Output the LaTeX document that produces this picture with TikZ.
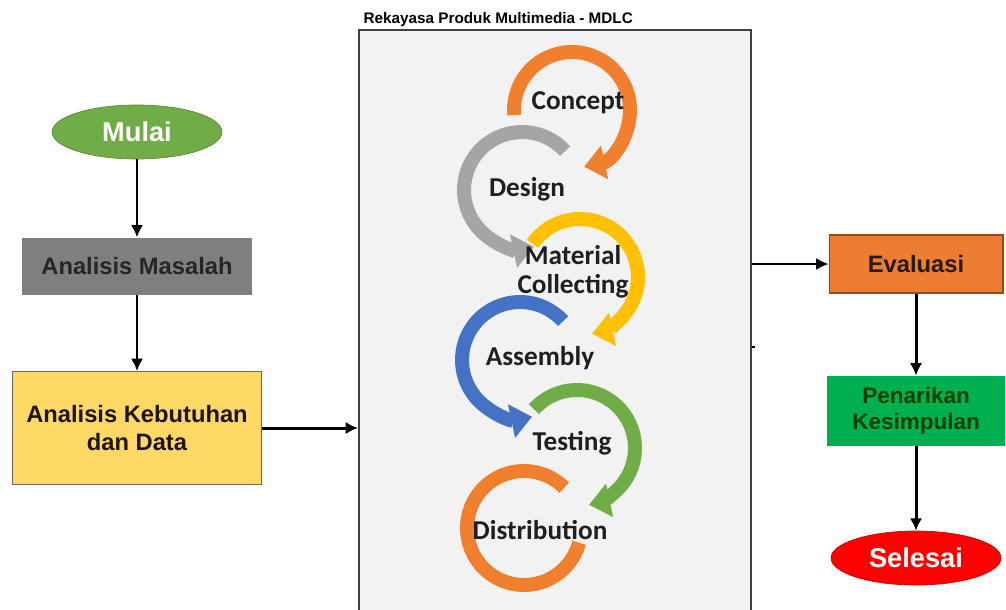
\documentclass[tikz,border=0pt]{standalone}
\usepackage{fontspec}
\setmainfont{Liberation Sans}
\newfontfamily\calibri{Carlito}
\usepackage{xcolor}
\usepackage{tikz}
\usetikzlibrary{positioning, arrows.meta, shapes.geometric}

\definecolor{mulaigreen}{HTML}{70AD47}
\definecolor{masalahgray}{HTML}{7F7F7F}
\definecolor{kebutuhanyellow}{HTML}{FFD966}
\definecolor{evaluasiorange}{HTML}{ED7D31}
\definecolor{penarikangreen}{HTML}{00B050}
\definecolor{selesaired}{HTML}{FF0000}
\definecolor{panelgray}{HTML}{F2F2F2}
\definecolor{ringorange}{HTML}{F07F2E}
\definecolor{ringgray}{HTML}{A5A5A5}
\definecolor{ringyellow}{HTML}{FFC000}
\definecolor{ringblue}{HTML}{4472C4}
\definecolor{ringgreen}{HTML}{70AD47}

\begin{document}
\begin{tikzpicture}[
    x=0.02cm, y=0.02cm,
    >={Latex[length=7pt,width=7pt]},
    terminal/.style={ellipse, draw=#1!80!black, fill=#1, minimum width=3.4cm, minimum height=1.08cm,
        inner sep=0pt, text=white, font=\bfseries\fontsize{15.5}{17}\selectfont},
    process/.style={rectangle, fill=#1, minimum width=4.62cm, minimum height=1.14cm, inner sep=2pt,
        align=center, font=\bfseries\fontsize{13.5}{16}\selectfont},
    arrow/.style={->, line width=1.7pt, black},
    ring/.style={line width=0.28cm, draw=#1},
    ringhead/.style={-{Triangle[length=0.42cm,width=0.66cm]}},
    stage/.style={font=\calibri\bfseries\fontsize{15.5}{16.5}\selectfont, text=black!88, align=center, inner sep=0pt}
]
    \useasboundingbox (0,0) rectangle (1006,609);

    % left column
    \node[terminal=mulaigreen] (mulai) at (137,477) {Mulai};
    \node[process=masalahgray, text=black!85, below=1.56cm of mulai] (masalah) {Analisis Masalah};
    \node[process=kebutuhanyellow, draw=black!60, line width=0.6pt, minimum width=4.98cm, minimum height=2.26cm,
        text=black!85!brown, below=1.52cm of masalah] (kebutuhan) {Analisis Kebutuhan\\dan Data};

    \draw[arrow] (mulai) -- (masalah);
    \draw[arrow] (masalah) -- (kebutuhan);

    % MDLC panel
    \node[rectangle, draw=black!75, line width=1.2pt, fill=panelgray, minimum width=7.84cm, minimum height=11.8cm,
        anchor=north west, inner sep=0pt] (mdlc) at (358,580) {};
    \node[anchor=south west, inner sep=1pt, font=\bfseries\fontsize{8.7}{10}\selectfont, xshift=2pt] (judul)
        at (mdlc.north west) {Rekayasa Produk Multimedia - MDLC};

    \draw[arrow] (kebutuhan.east) -- (kebutuhan.east -| mdlc.west);

    % cycle arrows
    \draw[ring=ringorange, ringhead] ([shift={(185:58)}]572,499) arc[start angle=185, end angle=-78, radius=58];
    \draw[ring=ringgray, ringhead] ([shift={(42:58)}]522,419) arc[start angle=42, end angle=282, radius=58];
    \draw[ring=ringyellow, ringhead] ([shift={(145:58)}]580,332) arc[start angle=145, end angle=-78, radius=58];
    \draw[ring=ringblue, ringhead] ([shift={(42:58)}]520,249) arc[start angle=42, end angle=282, radius=58];
    \draw[ring=ringgreen, ringhead] ([shift={(138:58)}]577,161) arc[start angle=138, end angle=-78, radius=58];
    \draw[ring=ringorange] ([shift={(45:57)}]524,81) arc[start angle=45, end angle=345, radius=57];

    \node[stage] (concept) at (578,506) {Concept};
    \node[stage] (design) at (527,420) {Design};
    \node[stage] (material) at (573,337) {Material\\Collecting};
    \node[stage] (assembly) at (540,251) {Assembly};
    \node[stage] (testing) at (572,166) {Testing};
    \node[stage] (distribution) at (540,79) {Distribution};

    % right column
    \node[process=evaluasiorange, draw=black!40!evaluasiorange, line width=0.6pt, minimum width=3.48cm,
        minimum height=1.16cm, text=black!80!brown] (evaluasi) at (916,345) {Evaluasi};
    \node[process=penarikangreen, minimum width=3.56cm, minimum height=1.4cm, text=black!75!green,
        font=\bfseries\fontsize{12.8}{15}\selectfont, below=1.64cm of evaluasi] (penarikan) {Penarikan\\Kesimpulan};
    \node[terminal=selesaired, below=1.69cm of penarikan] (selesai) {Selesai};

    \draw[arrow] (mdlc.east |- evaluasi.west) -- (evaluasi.west);
    \draw[arrow] (evaluasi) -- (penarikan);
    \draw[arrow] (penarikan) -- (selesai);

    \coordinate (tik) at (755,262);
    \draw[line width=1.7pt] (mdlc.east |- tik) -- (tik);
\end{tikzpicture}
\end{document}
